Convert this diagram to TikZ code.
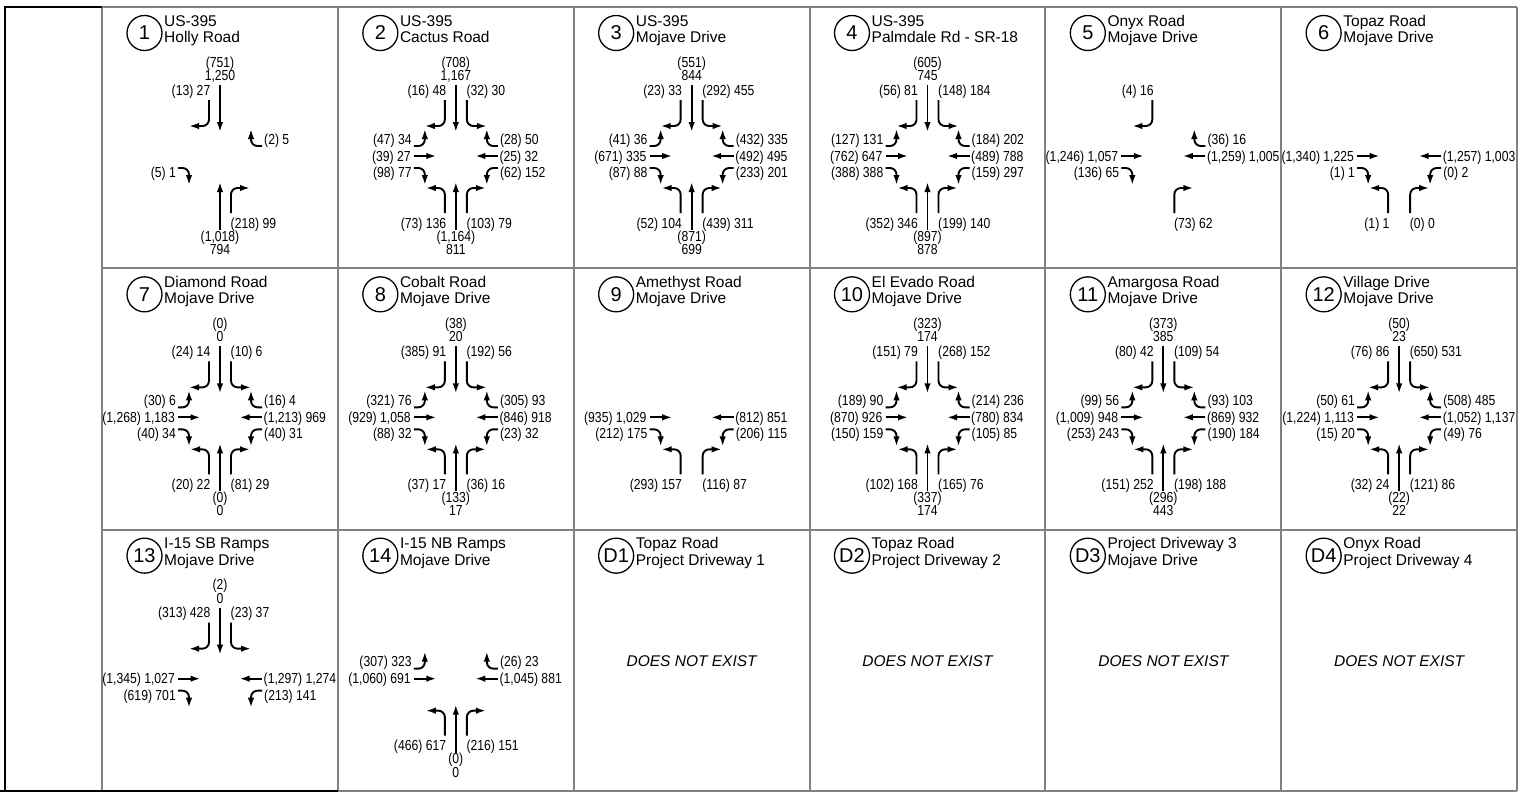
\documentclass[tikz,border=0pt]{standalone}
\usepackage{fontspec}
\setmainfont{Liberation Sans}
\newfontfamily\numfont[FakeStretch=0.84]{Liberation Sans}
\usetikzlibrary{arrows.meta}
\definecolor{gridgray}{RGB}{128,128,128}
\tikzset{
 arr/.style={line width=1.9pt, -{Latex[length=10pt,width=6.5pt]}, rounded corners=6.5pt},
 num/.style={font=\numfont\fontsize{14.5}{15}\selectfont, inner sep=0pt},
 hdrtxt/.style={font=\fontsize{15.5}{16}\selectfont, inner sep=0pt, anchor=base west},
 circ/.style={draw, circle, line width=1.3pt, minimum size=35pt, inner sep=0pt, font=\fontsize{20}{20}\selectfont},
 gline/.style={draw=gridgray, line width=2pt},
 bline/.style={draw=black, line width=2pt},
 dne/.style={font=\itshape\fontsize{15.5}{16}\selectfont, inner sep=0pt},
}
\newcommand\hdr[3]{\node[circ] (\cid-id) at (42.5,26) {#1};
 \node[hdrtxt] (\cid-ha) at (62,19) {#2};
 \node[hdrtxt] (\cid-hb) at (62,35.5) {#3};}
\newcommand\mvNT[2]{\draw[arr] (0,-71) -- (0,-24);
 \node[num,anchor=base] (\cid-nta) at (0,-89) {#1};
 \node[num,anchor=base] (\cid-ntb) at (0,-75.5) {#2};}
\newcommand\mvNW[1]{\draw[arr] (-11,-56) -- (-11,-30) -- (-31,-30);
 \node[num,anchor=base east] (\cid-nw) at (-9.5,-61) {#1};}
\newcommand\mvNE[1]{\draw[arr] (11,-56) -- (11,-30) -- (31,-30);
 \node[num,anchor=base west] (\cid-ne) at (10.5,-61) {#1};}
\newcommand\mvWU[1]{\draw[arr] (-42,-10) -- (-31,-10) -- (-31,-27);
 \node[num,anchor=base east] (\cid-wu) at (-44,-12) {#1};}
\newcommand\mvWT[1]{\draw[arr] (-42,0) -- (-19.5,0);
 \node[num,anchor=base east] (\cid-wt) at (-45,5) {#1};}
\newcommand\mvWD[1]{\draw[arr] (-42,12) -- (-31,12) -- (-31,29);
 \node[num,anchor=base east] (\cid-wd) at (-44,21.5) {#1};}
\newcommand\mvEU[1]{\draw[arr] (42,-10) -- (31,-10) -- (31,-27);
 \node[num,anchor=base west] (\cid-eu) at (44,-12) {#1};}
\newcommand\mvET[1]{\draw[arr] (42,0) -- (19.5,0);
 \node[num,anchor=base west] (\cid-et) at (43.5,5) {#1};}
\newcommand\mvED[1]{\draw[arr] (42,12) -- (31,12) -- (31,29);
 \node[num,anchor=base west] (\cid-ed) at (44,21.5) {#1};}
\newcommand\mvSL[1]{\draw[arr] (-11,57) -- (-11,32) -- (-30,32);
 \node[num,anchor=base east] (\cid-sl) at (-9.5,72) {#1};}
\newcommand\mvST[2]{\draw[arr] (0,74) -- (0,26);
 \node[num,anchor=base] (\cid-sta) at (0,85) {#1};
 \node[num,anchor=base] (\cid-stb) at (0,98.5) {#2};}
\newcommand\mvSR[1]{\draw[arr] (11,57) -- (11,32) -- (30,32);
 \node[num,anchor=base west] (\cid-sr) at (10.5,72) {#1};}
\newcommand\cell[7]{%
 \begin{scope}[shift={({102+235.83*#2},{7+261.33*#3})}]
 \def\cid{#1}
 \hdr{#4}{#5}{#6}
 \begin{scope}[shift={(118,149)}] #7 \end{scope}
 \end{scope}}
\begin{document}
\begin{tikzpicture}[x=1pt,y=-1pt]
\useasboundingbox (0,0) rectangle (1528,793);
% grid
\foreach \i in {0,...,6} { \draw[gline] ({102+235.83*\i},7) -- ({102+235.83*\i},791); }
\draw[gline] (102,7) -- (1517,7);
\draw[gline] (102,268) -- (1517,268);
\draw[gline] (102,530) -- (1517,530);
\draw[gline] (338,791) -- (1517,791);
\draw[bline] (5,7) -- (102,7);
\draw[bline] (5,6) -- (5,791);
\draw[bline] (0,791) -- (338,791);
% row 1
\cell{c1}{0}{0}{1}{US-395}{Holly Road}{\mvNT{(751)}{1,250}\mvNW{(13) 27}\mvEU{(2) 5}\mvWD{(5) 1}\mvST{(1,018)}{794}\mvSR{(218) 99}}
\cell{c2}{1}{0}{2}{US-395}{Cactus Road}{\mvNT{(708)}{1,167}\mvNW{(16) 48}\mvNE{(32) 30}\mvWU{(47) 34}\mvWT{(39) 27}\mvWD{(98) 77}\mvEU{(28) 50}\mvET{(25) 32}\mvED{(62) 152}\mvSL{(73) 136}\mvST{(1,164)}{811}\mvSR{(103) 79}}
\cell{c3}{2}{0}{3}{US-395}{Mojave Drive}{\mvNT{(551)}{844}\mvNW{(23) 33}\mvNE{(292) 455}\mvWU{(41) 36}\mvWT{(671) 335}\mvWD{(87) 88}\mvEU{(432) 335}\mvET{(492) 495}\mvED{(233) 201}\mvSL{(52) 104}\mvST{(871)}{699}\mvSR{(439) 311}}
\cell{c4}{3}{0}{4}{US-395}{Palmdale Rd - SR-18}{\mvNT{(605)}{745}\mvNW{(56) 81}\mvNE{(148) 184}\mvWU{(127) 131}\mvWT{(762) 647}\mvWD{(388) 388}\mvEU{(184) 202}\mvET{(489) 788}\mvED{(159) 297}\mvSL{(352) 346}\mvST{(897)}{878}\mvSR{(199) 140}}
\cell{c5}{4}{0}{5}{Onyx Road}{Mojave Drive}{\mvNW{(4) 16}\mvWT{(1,246) 1,057}\mvWD{(136) 65}\mvEU{(36) 16}\mvET{(1,259) 1,005}\mvSR{(73) 62}}
\cell{c6}{5}{0}{6}{Topaz Road}{Mojave Drive}{\mvWT{(1,340) 1,225}\mvWD{(1) 1}\mvET{(1,257) 1,003}\mvED{(0) 2}\mvSL{(1) 1}\mvSR{(0) 0}}
% row 2
\cell{c7}{0}{1}{7}{Diamond Road}{Mojave Drive}{\mvNT{(0)}{0}\mvNW{(24) 14}\mvNE{(10) 6}\mvWU{(30) 6}\mvWT{(1,268) 1,183}\mvWD{(40) 34}\mvEU{(16) 4}\mvET{(1,213) 969}\mvED{(40) 31}\mvSL{(20) 22}\mvST{(0)}{0}\mvSR{(81) 29}}
\cell{c8}{1}{1}{8}{Cobalt Road}{Mojave Drive}{\mvNT{(38)}{20}\mvNW{(385) 91}\mvNE{(192) 56}\mvWU{(321) 76}\mvWT{(929) 1,058}\mvWD{(88) 32}\mvEU{(305) 93}\mvET{(846) 918}\mvED{(23) 32}\mvSL{(37) 17}\mvST{(133)}{17}\mvSR{(36) 16}}
\cell{c9}{2}{1}{9}{Amethyst Road}{Mojave Drive}{\mvWT{(935) 1,029}\mvWD{(212) 175}\mvET{(812) 851}\mvED{(206) 115}\mvSL{(293) 157}\mvSR{(116) 87}}
\cell{c10}{3}{1}{10}{El Evado Road}{Mojave Drive}{\mvNT{(323)}{174}\mvNW{(151) 79}\mvNE{(268) 152}\mvWU{(189) 90}\mvWT{(870) 926}\mvWD{(150) 159}\mvEU{(214) 236}\mvET{(780) 834}\mvED{(105) 85}\mvSL{(102) 168}\mvST{(337)}{174}\mvSR{(165) 76}}
\cell{c11}{4}{1}{11}{Amargosa Road}{Mojave Drive}{\mvNT{(373)}{385}\mvNW{(80) 42}\mvNE{(109) 54}\mvWU{(99) 56}\mvWT{(1,009) 948}\mvWD{(253) 243}\mvEU{(93) 103}\mvET{(869) 932}\mvED{(190) 184}\mvSL{(151) 252}\mvST{(296)}{443}\mvSR{(198) 188}}
\cell{c12}{5}{1}{12}{Village Drive}{Mojave Drive}{\mvNT{(50)}{23}\mvNW{(76) 86}\mvNE{(650) 531}\mvWU{(50) 61}\mvWT{(1,224) 1,113}\mvWD{(15) 20}\mvEU{(508) 485}\mvET{(1,052) 1,137}\mvED{(49) 76}\mvSL{(32) 24}\mvST{(22)}{22}\mvSR{(121) 86}}
% row 3
\cell{c13}{0}{2}{13}{I-15 SB Ramps}{Mojave Drive}{\mvNT{(2)}{0}\mvNW{(313) 428}\mvNE{(23) 37}\mvWT{(1,345) 1,027}\mvWD{(619) 701}\mvET{(1,297) 1,274}\mvED{(213) 141}}
\cell{c14}{1}{2}{14}{I-15 NB Ramps}{Mojave Drive}{\mvWU{(307) 323}\mvWT{(1,060) 691}\mvEU{(26) 23}\mvET{(1,045) 881}\mvSL{(466) 617}\mvST{(0)}{0}\mvSR{(216) 151}}
\cell{d1}{2}{2}{D1}{Topaz Road}{Project Driveway 1}{\node[dne] (d1-dne) at (0,-18) {DOES NOT EXIST};}
\cell{d2}{3}{2}{D2}{Topaz Road}{Project Driveway 2}{\node[dne] (d2-dne) at (0,-18) {DOES NOT EXIST};}
\cell{d3}{4}{2}{D3}{Project Driveway 3}{Mojave Drive}{\node[dne] (d3-dne) at (0,-18) {DOES NOT EXIST};}
\cell{d4}{5}{2}{D4}{Onyx Road}{Project Driveway 4}{\node[dne] (d4-dne) at (0,-18) {DOES NOT EXIST};}
\end{tikzpicture}
\end{document}
